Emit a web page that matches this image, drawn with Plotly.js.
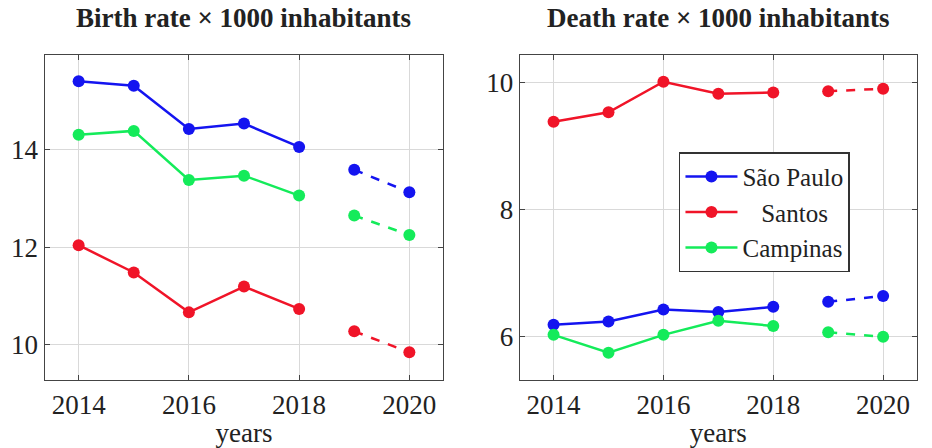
<!DOCTYPE html>
<html>
<head>
<meta charset="utf-8">
<script src="https://cdn.plot.ly/plotly-3.0.1.min.js"></script>
<style>html,body{margin:0;padding:0;background:#fff;}#chart{width:932px;height:448px;}</style>
</head>
<body>
<div id="chart"></div>
<script>
// Data
const yearsObs = [2014, 2015, 2016, 2017, 2018];
const yearsProj = [2019, 2020];
const cities = ["São Paulo", "Santos", "Campinas"];

const birthSaoPaulo = [15.41, 15.32, 14.43, 14.54, 14.06];
const birthSaoPauloProj = [13.59, 13.13];
const birthSantos = [12.04, 11.48, 10.66, 11.19, 10.73];
const birthSantosProj = [10.27, 9.84];
const birthCampinas = [14.31, 14.39, 13.38, 13.47, 13.06];
const birthCampinasProj = [12.65, 12.25];

const deathSaoPaulo = [6.19, 6.24, 6.43, 6.39, 6.47];
const deathSaoPauloProj = [6.55, 6.64];
const deathSantos = [9.38, 9.53, 10.01, 9.82, 9.84];
const deathSantosProj = [9.86, 9.90];
const deathCampinas = [6.03, 5.75, 6.03, 6.25, 6.17];
const deathCampinasProj = [6.07, 6.00];

const xTicks = [2014, 2016, 2018, 2020];
const birthTicks = [10, 12, 14];
const deathTicks = [6, 8, 10];

const colors = ["#1414f0", "#f01428", "#14eb5a"];
const FONT = "Liberation Serif, DejaVu Serif, serif";

function tr(x, y, ci, ax, dashed, legend, name) {
  return {
    x: x, y: y, type: "scatter", mode: "lines+markers",
    name: name, showlegend: legend,
    xaxis: ax === 1 ? "x" : "x2", yaxis: ax === 1 ? "y" : "y2",
    line: {color: colors[ci], width: 2.5, dash: dashed ? "dash" : "solid"},
    marker: {color: colors[ci], size: 12, symbol: "circle"},
    legendgroup: "g" + ci
  };
}

const legendNames = ["São Paulo", "\u00a0\u00a0\u00a0Santos", "Campinas"];
const data = [
  tr(yearsObs, birthSaoPaulo, 0, 1, false, false, cities[0]),
  tr(yearsProj, birthSaoPauloProj, 0, 1, true, false, cities[0]),
  tr(yearsObs, birthSantos, 1, 1, false, false, cities[1]),
  tr(yearsProj, birthSantosProj, 1, 1, true, false, cities[1]),
  tr(yearsObs, birthCampinas, 2, 1, false, false, cities[2]),
  tr(yearsProj, birthCampinasProj, 2, 1, true, false, cities[2]),
  tr(yearsObs, deathSaoPaulo, 0, 2, false, true, legendNames[0]),
  tr(yearsProj, deathSaoPauloProj, 0, 2, true, false, cities[0]),
  tr(yearsObs, deathSantos, 1, 2, false, true, legendNames[1]),
  tr(yearsProj, deathSantosProj, 1, 2, true, false, cities[1]),
  tr(yearsObs, deathCampinas, 2, 2, false, true, legendNames[2]),
  tr(yearsProj, deathCampinasProj, 2, 2, true, false, cities[2])
];

function xaxis(domain, anchor) {
  return {
    domain: domain, anchor: anchor, range: [2013.39, 2020.61],
    tickvals: xTicks, ticktext: xTicks.map(String),
    showgrid: true, gridcolor: "#d9d9d9", gridwidth: 1,
    showline: true, linecolor: "#444", linewidth: 1.5, mirror: "allticks",
    ticks: "inside", ticklen: 5, tickcolor: "#444", tickwidth: 1,
    zeroline: false,
    tickfont: {family: FONT, size: 27, color: "#222"},
    title: {text: "years", font: {family: FONT, size: 27, color: "#222"}, standoff: 2}
  };
}
function yaxis(domain, anchor, range, ticks) {
  return {
    domain: domain, anchor: anchor, range: range,
    tickvals: ticks, ticktext: ticks.map(String),
    showgrid: true, gridcolor: "#d9d9d9", gridwidth: 1,
    showline: true, linecolor: "#444", linewidth: 1.5, mirror: "allticks",
    ticks: "inside", ticklen: 5, tickcolor: "#444", tickwidth: 1,
    zeroline: false,
    tickfont: {family: FONT, size: 27, color: "#222"}
  };
}

const yDom = [0.1518, 0.8772];
const layout = {
  width: 932, height: 448,
  margin: {l: 0, r: 0, t: 0, b: 0},
  paper_bgcolor: "#fff", plot_bgcolor: "#fff",
  showlegend: true,
  xaxis: xaxis([0.0483, 0.4753], "y"),
  yaxis: yaxis(yDom, "x", [9.27, 15.95], birthTicks),
  xaxis2: xaxis([0.558, 0.9835], "y2"),
  yaxis2: yaxis(yDom, "x2", [5.32, 10.43], deathTicks),
  legend: {
    x: 0.7285, y: 0.66, xanchor: "left", yanchor: "top",
    bgcolor: "#fff", bordercolor: "#333", borderwidth: 1.5,
    font: {family: FONT, size: 25, color: "#222"},
    itemwidth: 52, tracegroupgap: 0
  },
  annotations: [
    {text: "<b>Birth rate × 1000 inhabitants</b>", x: 0.2618, y: 1, xref: "paper", yref: "paper",
     xanchor: "center", yanchor: "top", yshift: -1, showarrow: false,
     font: {family: FONT, size: 27, color: "#222"}},
    {text: "<b>Death rate × 1000 inhabitants</b>", x: 0.7707, y: 1, xref: "paper", yref: "paper",
     xanchor: "center", yanchor: "top", yshift: -1, showarrow: false,
     font: {family: FONT, size: 27, color: "#222"}}
  ]
};

Plotly.newPlot("chart", data, layout, {displayModeBar: false, staticPlot: true});
</script>
</body>
</html>
